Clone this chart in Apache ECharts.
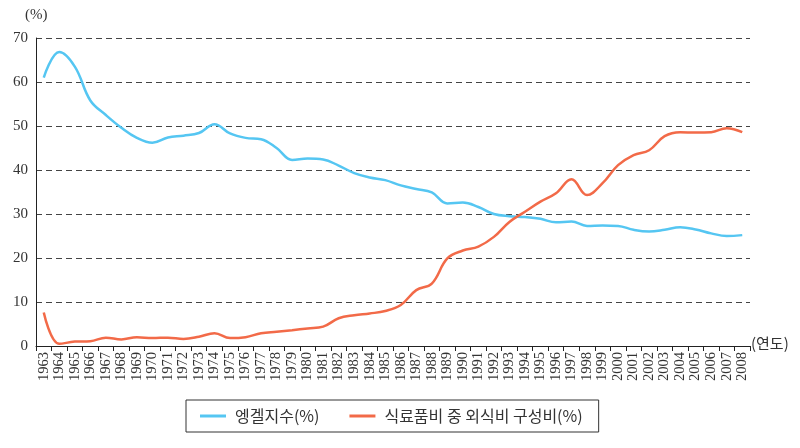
<!DOCTYPE html>
<html><head><meta charset="utf-8">
<script src="https://cdn.jsdelivr.net/npm/echarts@6/dist/echarts.min.js"></script>
<style>html,body{margin:0;padding:0;background:#fff}#c{width:800px;height:448px}</style>
</head><body><div id="c"></div>
<script>
const years = [];
for (let y = 1963; y <= 2008; y++) years.push(String(y));
const engel = [61.0,66.8,63.5,55.8,52.5,49.6,47.3,46.2,47.4,47.8,48.4,50.4,48.3,47.3,47.0,45.0,42.3,42.6,42.4,41.0,39.3,38.3,37.7,36.5,35.7,34.9,32.4,32.6,31.6,30.0,29.5,29.3,28.9,28.1,28.3,27.3,27.4,27.3,26.4,26.0,26.4,27.0,26.5,25.6,25.0,25.2];
const eatOut = [7.6,0.5,1.0,1.1,1.9,1.5,2.0,1.8,1.9,1.6,2.1,2.9,1.8,2.0,2.9,3.25,3.6,4.0,4.4,6.3,7.0,7.4,7.95,9.3,12.7,14.2,19.9,21.7,22.6,24.8,28.2,30.5,32.8,34.7,37.9,34.3,37.0,41.1,43.4,44.5,47.7,48.6,48.5,48.6,49.5,48.6];
const yTicks = [0,10,20,30,40,50,60,70];
const seriesNames = ['엥겔지수(%)','식료품비 중 외식비 구성비(%)'];
const colors = ['#55c6f2','#f26a48'];

const chart = echarts.init(document.getElementById('c'));
chart.setOption({
  animation:false,
  grid:{left:36,right:50,top:38,bottom:102},
  graphic:[
    {type:'text',left:25,top:8,style:{text:'(%)',font:'15px "Liberation Serif"',fill:'#333'}},
    {type:'text',left:751,top:336,style:{text:'(연도)',font:'15px "Noto Sans CJK KR"',fill:'#333'}}
  ],
  legend:{
    left:186, top:400, padding:[8,16,8,14], itemGap:30,
    borderColor:'#333', borderWidth:1,
    icon:'rect', itemWidth:26, itemHeight:3,
    textStyle:{fontFamily:'Noto Sans CJK KR',fontSize:16,color:'#333',padding:[0,0,0,4]},
    data:seriesNames
  },
  xAxis:{
    type:'category', data:years, boundaryGap:true,
    axisLine:{lineStyle:{color:'#222',width:1}},
    axisTick:{show:true,length:5,lineStyle:{color:'#222'}},
    axisLabel:{rotate:90,fontFamily:'Liberation Serif',fontSize:14.5,color:'#333',margin:6,interval:0},
    splitLine:{show:false}
  },
  yAxis:{
    type:'value', min:0, max:70, interval:10,
    axisLine:{show:true,lineStyle:{color:'#222',width:1}},
    axisTick:{show:false},
    axisLabel:{fontFamily:'Liberation Serif',fontSize:15,color:'#333',margin:8},
    splitLine:{show:true,lineStyle:{type:[6,4],color:'#444',width:1}}
  },
  series:[
    {name:seriesNames[0],type:'line',data:engel,smooth:0.4,symbol:'none',lineStyle:{color:colors[0],width:2.5},itemStyle:{color:colors[0]}},
    {name:seriesNames[1],type:'line',data:eatOut,smooth:0.4,symbol:'none',lineStyle:{color:colors[1],width:2.5},itemStyle:{color:colors[1]}}
  ]
});
</script></body></html>
